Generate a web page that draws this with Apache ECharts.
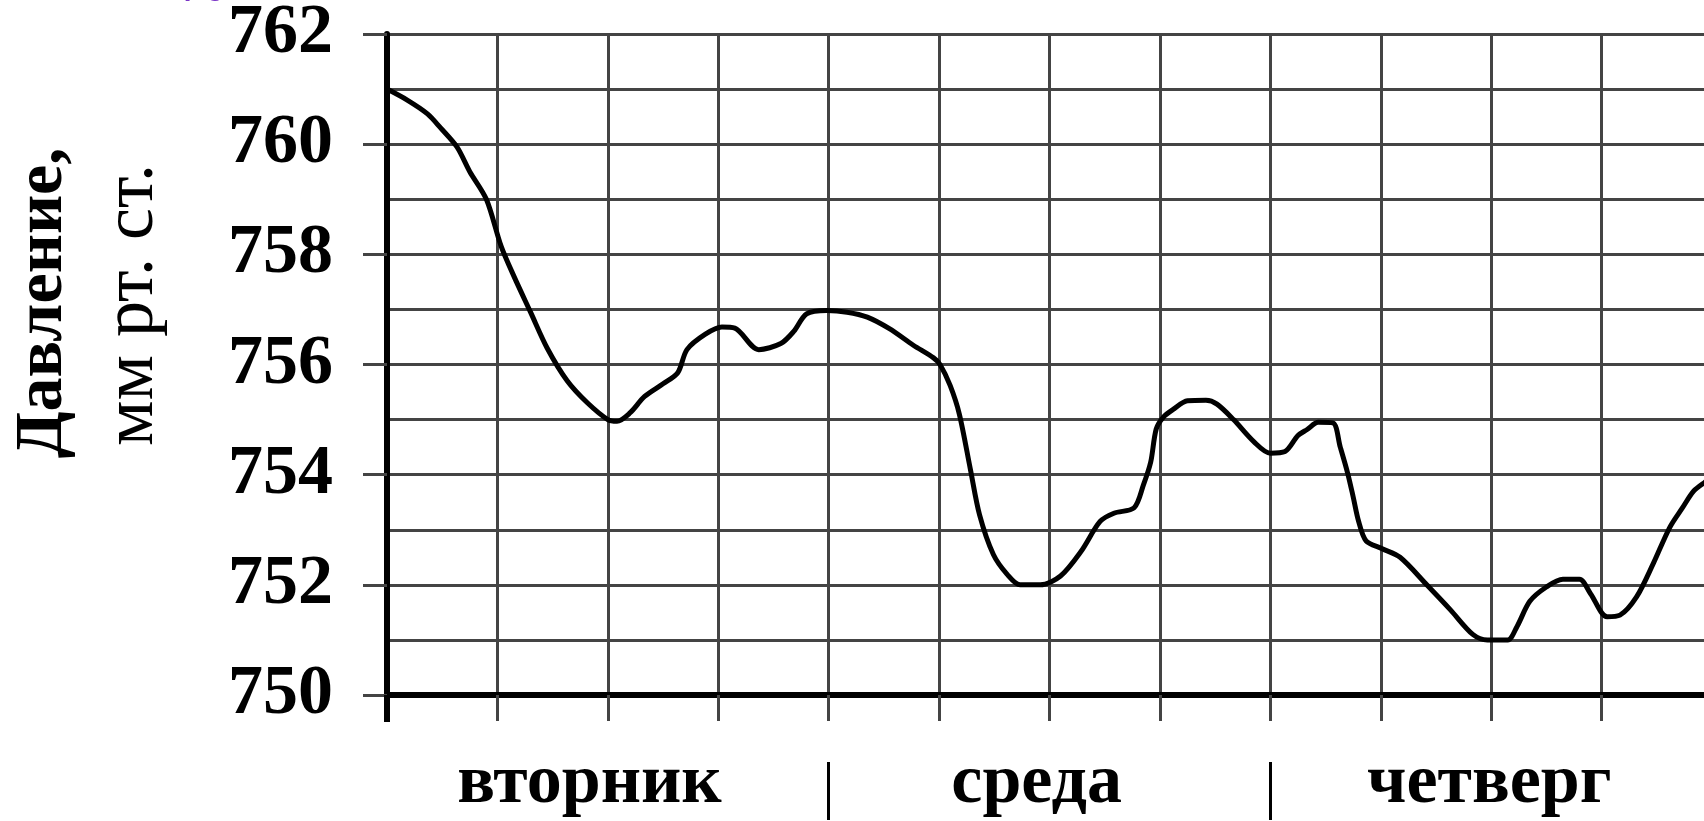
<!DOCTYPE html>
<html>
<head>
<meta charset="utf-8">
<script src="https://cdn.jsdelivr.net/npm/echarts@6/dist/echarts.min.js"></script>
<style>
html, body { margin: 0; padding: 0; background: #fff; }
#chart { width: 1704px; height: 821px; }
</style>
</head>
<body>
<div id="chart"></div>
<script>
// hours since start of вторник
const hours = [
  0, 1.1, 2.2, 2.9, 3.8, 4.5, 5.4, 6.2, 6.9, 7.8, 8.7, 9.8, 10.9, 12.0, 12.5,
  13.2, 14.0, 15.0, 15.8, 16.3, 17.3, 18.2, 18.9, 20.2, 21.4, 22.1, 22.8, 23.9,
  25.0, 26.1, 27.3, 28.6, 29.7, 30.05, 30.6, 31.1, 31.7, 32.2, 32.95, 33.7, 34.4,
  35.5, 36.6, 37.7, 38.75, 39.5, 40.6, 41.1, 41.5, 41.8, 42.2, 42.7, 43.5, 44.5,
  45.1, 46.0, 47.1, 48.0, 48.8, 49.5, 50.0, 50.6, 51.4, 51.8, 52.2, 52.5, 52.8,
  53.2, 54.05, 55.05, 56.5, 57.8, 59.0, 59.8, 60.9, 61.4, 62.1, 63.0, 63.9, 64.8,
  65.4, 66.3, 67.0, 67.9, 68.8, 69.7, 70.4, 71.0, 71.6, 72.0
];
const pressure = [
  761.0, 760.8, 760.55, 760.3, 759.95, 759.5, 759.0, 758.15, 757.6, 756.95, 756.3, 755.7, 755.3, 755.0, 754.97,
  755.12, 755.42, 755.65, 755.85, 756.27, 756.55, 756.68, 756.66, 756.27, 756.38, 756.6, 756.92, 756.98,
  756.95, 756.86, 756.65, 756.35, 756.12, 756.0, 755.62, 755.1, 754.1, 753.27, 752.55, 752.19, 752.0,
  752.0, 752.16, 752.6, 753.15, 753.3, 753.4, 753.81, 754.23, 754.83, 755.05, 755.18, 755.34, 755.35,
  755.28, 755.0, 754.6, 754.39, 754.42, 754.71, 754.82, 754.95, 754.94, 754.5, 754.03, 753.6, 753.15,
  752.8, 752.66, 752.5, 752.0, 751.54, 751.1, 751.0, 751.0, 751.24, 751.7, 751.96, 752.1, 752.1,
  751.84, 751.42, 751.45, 751.78, 752.38, 753.04, 753.4, 753.7, 753.86, 753.95
];
const days = ['вторник', 'среда', 'четверг'];
const dayLabelAt = [11.0, 35.3, 59.9];
const dayBreaks = [24, 48];
const titleLines = ['Давление,', 'мм рт. ст.'];

const FONT = '"Liberation Serif", "Times New Roman", serif';
const GRID = { color: '#444', width: 3 };

const chart = echarts.init(document.getElementById('chart'), null, { renderer: 'canvas' });

chart.setOption({
  animation: false,
  backgroundColor: '#fff',
  // the grid runs past the right edge of the page, as in the source
  grid: { left: 387, top: 34, width: 1325, height: 661, containLabel: false, outerBoundsMode: 'none' },
  xAxis: [
    {
      type: 'value', min: 0, max: 72, interval: 6, position: 'bottom',
      axisLine: { show: true, onZero: false, lineStyle: { color: '#000', width: 6 } },
      axisTick: { show: true, length: 26, lineStyle: GRID },
      axisLabel: { show: false },
      splitLine: { show: true, lineStyle: GRID }
    },
    {
      type: 'value', min: 0, max: 72, position: 'bottom', offset: 67,
      axisLine: { show: false },
      axisTick: { show: true, customValues: dayBreaks, length: 58, lineStyle: { color: '#000', width: 3 } },
      axisLabel: {
        show: true, customValues: dayLabelAt, margin: 22, verticalAlign: 'middle',
        formatter: v => days[dayLabelAt.indexOf(v)] || '',
        fontFamily: FONT, fontWeight: 'bold', fontSize: 70, color: '#000'
      },
      splitLine: { show: false }
    },
    {
      type: 'value', min: 0, max: 72, position: 'bottom',
      axisLine: { show: false },
      axisTick: { show: true, customValues: [0], length: 27, lineStyle: { color: '#000', width: 6 } },
      axisLabel: { show: false },
      splitLine: { show: false }
    }
  ],
  yAxis: [
    {
      type: 'value', min: 750, max: 762, interval: 2,
      axisLine: { show: true, onZero: false, lineStyle: { color: '#000', width: 6 } },
      axisTick: { show: true, length: 24, lineStyle: GRID },
      axisLabel: {
        margin: 54, fontFamily: FONT, fontWeight: 'bold', fontSize: 70, color: '#000'
      },
      splitLine: { show: true, lineStyle: GRID },
      minorTick: { show: false, splitNumber: 2 },
      minorSplitLine: { show: true, lineStyle: GRID }
    },
    {
      type: 'value', min: 750, max: 762,
      axisLine: { show: false },
      axisTick: { show: true, customValues: [750], length: 24, lineStyle: { color: '#000', width: 6 } },
      axisLabel: { show: false },
      splitLine: { show: false }
    }
  ],
  graphic: [
    {
      type: 'text', x: 43, y: 303, rotation: Math.PI / 2,
      style: {
        text: titleLines[0], font: 'bold 68px ' + FONT, fill: '#000',
        align: 'center', verticalAlign: 'middle', textAlign: 'center', textVerticalAlign: 'middle'
      }
    },
    {
      type: 'text', x: 133, y: 305, rotation: Math.PI / 2,
      style: {
        text: titleLines[1], font: '72px ' + FONT, fill: '#000',
        align: 'center', verticalAlign: 'middle', textAlign: 'center', textVerticalAlign: 'middle'
      }
    },
    {
      type: 'text', x: 203, y: -10,
      style: {
        text: '76', font: '40px "Noto Sans"', fill: '#7a34c6',
        align: 'center', verticalAlign: 'middle', textAlign: 'center', textVerticalAlign: 'middle'
      }
    }
  ],
  series: [
    {
      type: 'line',
      xAxisIndex: 0, yAxisIndex: 0,
      data: hours.map((h, i) => [h, pressure[i]]),
      showSymbol: false,
      smooth: 0.3,
      lineStyle: { color: '#000', width: 5 },
      z: 5
    }
  ]
});
</script>
</body>
</html>
